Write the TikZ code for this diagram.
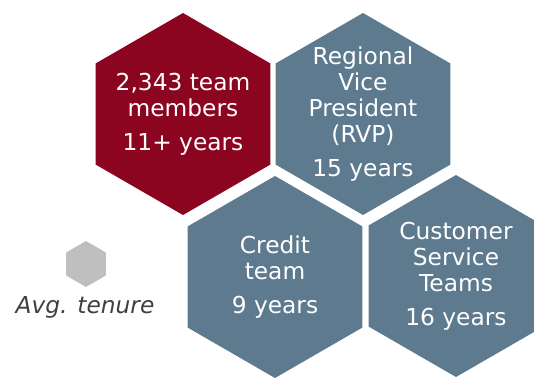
\documentclass[tikz,border=0pt]{standalone}
\usepackage{fontspec}
\setmainfont{DejaVu Sans}
\usetikzlibrary{shapes.geometric}
\definecolor{tenurered}{RGB}{139,4,32}
\definecolor{slate}{RGB}{94,122,143}
\definecolor{lightgrey}{RGB}{191,191,191}
\definecolor{textgrey}{RGB}{64,64,64}

\begin{document}
\begin{tikzpicture}[
    hexa/.style={regular polygon, regular polygon sides=6, regular polygon rotate=30,
        minimum size=6.06cm, inner sep=0pt, outer sep=0pt},
    hexlabel/.style={align=center, text=white, font=\fontsize{19.9}{22.2}\selectfont},
]
    \useasboundingbox (0,0) rectangle (16.02,-11.31);

    % Upper row
    \node[hexa, fill=tenurered] (members) at (5.49,-3.42) {};
    \node[hexa, fill=slate] (rvp) at (10.89,-3.42) {};

    % Lower row
    \node[hexa, fill=slate] (credit) at (8.25,-8.31) {};
    \node[hexa, fill=slate] (service) at (13.68,-8.28) {};

    % Labels
    \node[hexlabel] (memberstext) at (members) {2,343 team\\members\\[6.8pt]11+ years};
    \node[hexlabel] (rvptext) at (rvp) {Regional\\Vice\\President\\(RVP)\\[6.8pt]15 years};
    \node[hexlabel] (credittext) at (credit) {Credit\\team\\[6.8pt]9 years};
    \node[hexlabel] (servicetext) at (service) {Customer\\Service\\Teams\\[6.8pt]16 years};

    % Legend
    \node[hexa, fill=lightgrey, minimum size=1.38cm] (legend) at (2.58,-7.92) {};
    \node[anchor=base, text=textgrey, font=\fontsize{19.9}{22.2}\selectfont\itshape] (legendtext) at (2.55,-9.39) {Avg. tenure};
\end{tikzpicture}
\end{document}
